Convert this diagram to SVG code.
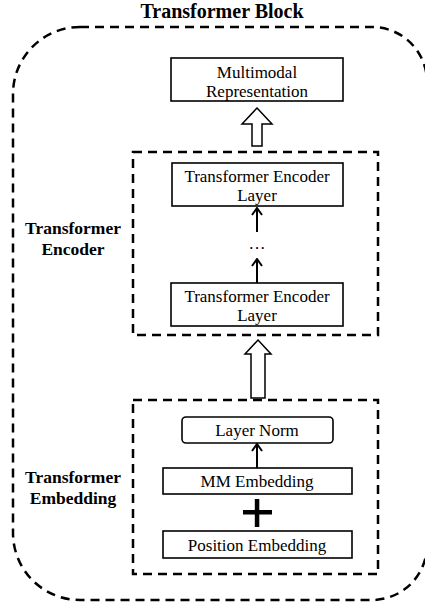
<svg xmlns="http://www.w3.org/2000/svg" width="425" height="606" viewBox="0 0 425 606">
<defs>
<style>
.dash{fill:none;stroke:#000;stroke-width:2.5;stroke-dasharray:9 6}
.box{fill:#fff;stroke:#000;stroke-width:1.6}
.t{font-family:"Liberation Serif","Times New Roman",serif;font-size:17px;text-anchor:middle;fill:#000}
.b{font-family:"Liberation Serif","Times New Roman",serif;font-size:17.5px;font-weight:bold;text-anchor:middle;fill:#000}
.ln{fill:none;stroke:#000;stroke-width:2}
.hollow{fill:#fff;stroke:#000;stroke-width:1.5}
</style>
<marker id="chev" viewBox="0 0 10 12" refX="9" refY="6" markerWidth="10" markerHeight="12" markerUnits="userSpaceOnUse" orient="auto">
<path d="M2,1 L9,6 L2,11" fill="none" stroke="#000" stroke-width="2"/>
</marker>
</defs>
<g id="block">
<path class="dash" d="M80,27 H372 A55,55 0 0 1 427,82 V545 A55,55 0 0 1 372,600 H80 A67,67 0 0 1 13,533 V94 A67,67 0 0 1 80,27 Z"/>
<text class="b" x="222" y="18" style="font-size:20px">Transformer Block</text>
</g>
<g id="encoder">
<rect class="dash" x="133" y="152" width="245" height="183"/>
<text class="b" x="73" y="234">Transformer</text>
<text class="b" x="73" y="255">Encoder</text>
</g>
<g id="embedding">
<rect class="dash" x="133" y="400" width="245" height="174"/>
<text class="b" x="73" y="483">Transformer</text>
<text class="b" x="73" y="504">Embedding</text>
</g>
<g id="multimodal">
<rect class="box" x="171" y="58" width="172" height="43"/>
<text class="t" x="257" y="77.5">Multimodal</text>
<text class="t" x="257" y="96.5">Representation</text>
</g>
<g id="tel1">
<rect class="box" x="172" y="163" width="171" height="43"/>
<text class="t" x="257" y="182">Transformer Encoder</text>
<text class="t" x="257" y="201">Layer</text>
</g>
<g id="dots">
<text class="t" x="257" y="249">…</text>
</g>
<g id="tel2">
<rect class="box" x="171" y="283" width="172" height="43"/>
<text class="t" x="257" y="302">Transformer Encoder</text>
<text class="t" x="257" y="321">Layer</text>
</g>
<g id="layernorm">
<rect class="box" x="182" y="417" width="151" height="26" rx="4" ry="4"/>
<text class="t" x="257" y="436">Layer Norm</text>
</g>
<g id="mm">
<rect class="box" x="163" y="468" width="189" height="26"/>
<text class="t" x="257" y="487">MM Embedding</text>
</g>
<g id="plus">
<rect x="243" y="510" width="29" height="4.5" fill="#000"/>
<rect x="254.8" y="499" width="4.5" height="28" fill="#000"/>
</g>
<g id="position">
<rect class="box" x="163" y="531" width="189" height="27"/>
<text class="t" x="257" y="551">Position Embedding</text>
</g>
<g id="connectors">
<path class="hollow" d="M257,108 L272,124 L262,124 L262,146 L252,146 L252,124 L242,124 Z"/>
<path class="hollow" d="M258,340 L271,354 L265,354 L265,398 L251,398 L251,354 L245,354 Z"/>
<line class="ln" x1="257" y1="232" x2="257" y2="208" marker-end="url(#chev)"/>
<line class="ln" x1="257" y1="283" x2="257" y2="259" marker-end="url(#chev)"/>
<line class="ln" x1="257" y1="468" x2="257" y2="444" marker-end="url(#chev)"/>
</g>
</svg>
